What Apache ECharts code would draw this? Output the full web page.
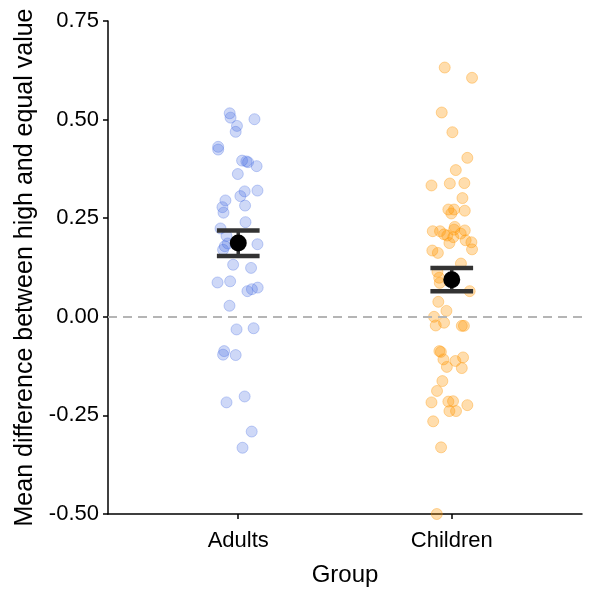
<!DOCTYPE html>
<html>
<head>
<meta charset="utf-8">
<script src="https://cdn.jsdelivr.net/npm/echarts@6/dist/echarts.min.js"></script>
<style>html,body{margin:0;padding:0;background:#fff}#c{width:589px;height:596px}</style>
</head>
<body>
<div id="c"></div>
<script>
const categories = ['Adults', 'Children'];
const yTicks = [-0.5, -0.25, 0, 0.25, 0.5, 0.75];

const adultsValues = [0.516, 0.505, 0.501, 0.484, 0.469, 0.431, 0.424, 0.396, 0.394, 0.392,
  0.382, 0.362, 0.318, 0.320, 0.306, 0.295, 0.278, 0.264, 0.282, 0.240,
  0.224, 0.205, 0.184, 0.179, 0.170, 0.186, 0.132, 0.124, 0.087, 0.090,
  0.065, 0.070, 0.074, 0.028, -0.032, -0.029, -0.087, -0.096, -0.097, -0.202,
  -0.217, -0.291, -0.332];
const adultsJitter = [-0.040, -0.036, 0.076, -0.006, -0.012, -0.094, -0.094, 0.018, 0.038, 0.046,
  0.086, -0.002, 0.030, 0.090, 0.010, -0.060, -0.074, -0.069, 0.032, 0.034,
  -0.083, -0.055, 0.090, -0.063, -0.071, -0.049, -0.024, 0.060, -0.097, -0.038,
  0.043, 0.064, 0.091, -0.041, -0.008, 0.072, -0.066, -0.071, -0.012, 0.030,
  -0.055, 0.063, 0.020];

const childrenValues = [0.632, 0.606, 0.518, 0.468, 0.403, 0.372, 0.333, 0.338, 0.339, 0.301,
  0.272, 0.272, 0.262, 0.269, 0.228, 0.221, 0.217, 0.217, 0.209, 0.206,
  0.211, 0.219, 0.202, 0.187, 0.194, 0.189, 0.171, 0.168, 0.162, 0.135,
  0.114, 0.099, 0.086, 0.065, 0.038, 0.015, 0.000, -0.022, -0.015, -0.023,
  -0.023, -0.087, -0.089, -0.108, -0.112, -0.103, -0.127, -0.130, -0.163, -0.188,
  -0.217, -0.215, -0.214, -0.224, -0.239, -0.239, -0.265, -0.331, -0.500];
const childrenJitter = [-0.033, 0.095, -0.047, 0.003, 0.073, 0.019, -0.095, -0.009, 0.059, 0.050,
  -0.016, 0.011, -0.002, 0.061, 0.014, 0.011, -0.089, -0.055, -0.036, -0.021,
  0.042, 0.061, 0.007, -0.011, 0.065, 0.092, 0.095, -0.091, -0.065, 0.043,
  -0.067, -0.059, -0.056, 0.084, -0.063, -0.025, -0.083, -0.075, -0.036, 0.047,
  0.057, -0.058, -0.051, -0.039, 0.017, 0.053, -0.023, 0.047, -0.044, -0.069,
  -0.095, -0.016, 0.006, 0.073, -0.011, 0.020, -0.087, -0.050, -0.070];

const groupMeans = [0.187, 0.094];
const groupLower = [0.154, 0.065];
const groupUpper = [0.219, 0.124];
const capHalfWidth = 0.1;

const adultsData = adultsValues.map((v, i) => [1 + adultsJitter[i], v]);
const childrenData = childrenValues.map((v, i) => [2 + childrenJitter[i], v]);
const meanData = groupMeans.map((m, i) => [i + 1, m]);
const errData = groupMeans.map((m, i) => [i + 1, groupLower[i], groupUpper[i]]);

const FONT = '"Liberation Sans", Arial, Helvetica, sans-serif';
const chart = echarts.init(document.getElementById('c'), null, {renderer: 'canvas'});
chart.setOption({
  animation: false,
  backgroundColor: '#ffffff',
  grid: {left: 108, right: 7, top: 21, bottom: 82, containLabel: false},
  xAxis: {
    type: 'value', min: 0.39, max: 2.61,
    name: 'Group', nameLocation: 'middle', nameGap: 49,
    nameTextStyle: {fontFamily: FONT, fontSize: 24, color: '#000'},
    splitLine: {show: false},
    axisLine: {show: true, onZero: false, lineStyle: {color: '#000', width: 1.5}},
    axisTick: {show: true, length: 5, lineStyle: {color: '#000', width: 1.5}, customValues: [1, 2]},
    axisLabel: {customValues: [1, 2], margin: 16, fontFamily: FONT, fontSize: 22, color: '#000',
      formatter: v => categories[Math.round(v) - 1] || ''}
  },
  yAxis: {
    type: 'value', min: -0.5, max: 0.75, interval: 0.25,
    name: 'Mean difference between high and equal value', nameLocation: 'middle', nameGap: 68, nameRotate: 90,
    nameTextStyle: {fontFamily: FONT, fontSize: 25, color: '#000'},
    splitLine: {show: false},
    axisLine: {show: true, onZero: false, lineStyle: {color: '#000', width: 1.5}},
    axisTick: {show: true, length: 5, lineStyle: {color: '#000', width: 1.5}},
    axisLabel: {margin: 9, fontFamily: FONT, fontSize: 22, color: '#000',
      formatter: v => v.toFixed(2)}
  },
  series: [
    {
      type: 'line', data: [], silent: true,
      markLine: {
        silent: true, symbol: 'none', label: {show: false},
        lineStyle: {color: '#b5b5b5', type: [9, 6], width: 2},
        data: [{yAxis: 0}]
      }
    },
    {
      type: 'scatter', name: 'Adults', data: adultsData, symbolSize: 11,
      itemStyle: {color: 'rgba(65,105,225,0.32)', borderColor: 'rgba(65,105,225,0.38)', borderWidth: 1}
    },
    {
      type: 'scatter', name: 'Children', data: childrenData, symbolSize: 11,
      itemStyle: {color: 'rgba(255,150,0,0.4)', borderColor: 'rgba(255,150,0,0.45)', borderWidth: 1}
    },
    {
      type: 'custom', data: errData, z: 5,
      renderItem: function (params, api) {
        const x = api.value(0), lo = api.value(1), hi = api.value(2);
        const pLo = api.coord([x, lo]), pHi = api.coord([x, hi]);
        const l1 = api.coord([x - capHalfWidth, lo]), r1 = api.coord([x + capHalfWidth, lo]);
        const l2 = api.coord([x - capHalfWidth, hi]), r2 = api.coord([x + capHalfWidth, hi]);
        const st = {stroke: '#333333', lineWidth: 4.5};
        return {type: 'group', children: [
          {type: 'line', shape: {x1: pLo[0], y1: pLo[1], x2: pHi[0], y2: pHi[1]}, style: {stroke: '#333333', lineWidth: 3.5}},
          {type: 'line', shape: {x1: l1[0], y1: l1[1], x2: r1[0], y2: r1[1]}, style: st},
          {type: 'line', shape: {x1: l2[0], y1: l2[1], x2: r2[0], y2: r2[1]}, style: st}
        ]};
      }
    },
    {
      type: 'scatter', data: meanData, symbolSize: 17, z: 6,
      itemStyle: {color: '#000000', opacity: 1}
    }
  ]
});
</script>
</body>
</html>
